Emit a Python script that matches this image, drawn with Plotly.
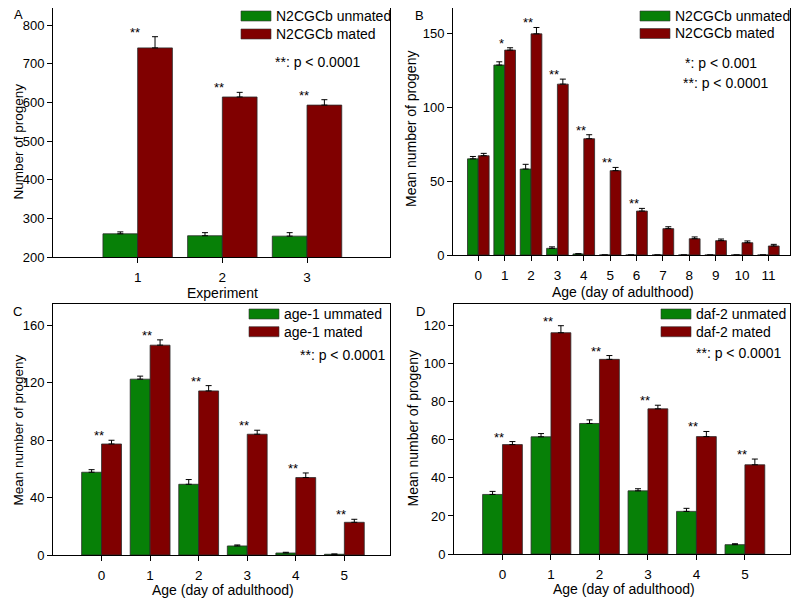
import plotly.graph_objects as go

GREEN = "#078007"
RED = "#800000"
FONT = "Liberation Sans, Arial, sans-serif"

# ---------------- data ----------------
# Panel A
A_exp = [1, 2, 3]
A_unmated = [260, 255, 254]
A_unmated_err = [5, 8, 9]
A_mated = [741, 614, 593]
A_mated_err = [29, 12, 14]
A_sig = ["**", "**", "**"]
A_yticks = [200, 300, 400, 500, 600, 700, 800]

# Panel B
B_day = [0, 1, 2, 3, 4, 5, 6, 7, 8, 9, 10, 11]
B_unmated = [65, 128.4, 58.1, 4.5, 0.7, 0, 0, 0, 0, 0, 0, 0]
B_unmated_err = [1.6, 2.2, 3.2, 1.0, 0.2, 0, 0, 0, 0, 0, 0, 0]
B_mated = [67.1, 138.5, 149.5, 115.5, 78.6, 57.0, 29.7, 17.8, 11.0, 9.7, 8.3, 6.1]
B_mated_err = [1.6, 1.6, 4.3, 3.4, 2.7, 2.2, 1.8, 1.3, 1.2, 1.1, 1.2, 1.1]
B_sig = ["", "*", "**", "**", "**", "**", "**", "", "", "", "", ""]
B_yticks = [0, 50, 100, 150]

# Panel C
C_day = [0, 1, 2, 3, 4, 5]
C_unmated = [57.7, 122.6, 49.3, 6.3, 1.4, 0.5]
C_unmated_err = [1.8, 2.1, 3.3, 0.7, 0.5, 0.2]
C_mated = [77.4, 146.3, 114.4, 84.2, 54.0, 22.8]
C_mated_err = [2.6, 3.7, 3.7, 2.8, 3.2, 2.1]
C_sig = ["**", "**", "**", "**", "**", "**"]
C_yticks = [0, 40, 80, 120, 160]

# Panel D
D_day = [0, 1, 2, 3, 4, 5]
D_unmated = [31.3, 61.6, 68.6, 33.2, 22.4, 4.9]
D_unmated_err = [1.6, 1.7, 1.9, 1.1, 1.6, 0.5]
D_mated = [57.5, 116.3, 102.3, 76.3, 61.7, 46.9]
D_mated_err = [1.6, 3.7, 2.0, 1.9, 2.7, 3.0]
D_sig = ["**", "**", "**", "**", "**", "**"]
D_yticks = [0, 20, 40, 60, 80, 100, 120]

# The page body has an 8px margin; the figure is sized so it fills the window.
OFF = 8
W, H = 800 - OFF, 603 - OFF


def fx(px):
    return min(max((px - OFF) / W, 0.0), 1.0)


def fy(py):
    return min(max(1 - (py - OFF) / H, 0.0), 1.0)


panels = [
    dict(ax="", x=A_exp, u=A_unmated, ue=A_unmated_err, m=A_mated, me=A_mated_err,
         sig=A_sig, yt=A_yticks, names=("N2CGCb unmated", "N2CGCb mated"),
         xtitle="Experiment", ytitle="Number of progeny", letter="A",
         box=(53, 390, 5, 257), xr=[0.0, 3.98], yr=[200, 852],
         leg=(274, [16, 34]), ptext=["**: p < 0.0001"], ppos=[(273, 62)],
         lpos=(18, 15), ytc=142, xtc=(222.5, 292.7)),
    dict(ax="2", x=B_day, u=B_unmated, ue=B_unmated_err, m=B_mated, me=B_mated_err,
         sig=B_sig, yt=B_yticks, names=("N2CGCb unmated", "N2CGCb mated"),
         xtitle="Age (day of adulthood)", ytitle="Mean number of progeny", letter="B",
         box=(453, 790, 5, 255), xr=[-0.96, 11.82], yr=[0, 169],
         leg=(673, [16, 33.5]), ptext=["*: p < 0.001", "**: p < 0.0001"],
         ppos=[(683, 63), (681, 83)], lpos=(419, 16), ytc=129, xtc=(623, 291.7)),
    dict(ax="3", x=C_day, u=C_unmated, ue=C_unmated_err, m=C_mated, me=C_mated_err,
         sig=C_sig, yt=C_yticks, names=("age-1 ummated", "age-1 mated"),
         xtitle="Age (day of adulthood)", ytitle="Mean number of progeny", letter="C",
         box=(53, 390, 304, 555), xr=[-1.0, 5.94], yr=[0, 175],
         leg=(282, [314, 331.7]), ptext=["**: p < 0.0001"], ppos=[(298, 355)],
         lpos=(17, 311), ytc=430, xtc=(223, 590)),
    dict(ax="4", x=D_day, u=D_unmated, ue=D_unmated_err, m=D_mated, me=D_mated_err,
         sig=D_sig, yt=D_yticks, names=("daf-2 unmated", "daf-2 mated"),
         xtitle="Age (day of adulthood)", ytitle="Mean number of progeny", letter="D",
         box=(454, 790, 304, 554), xr=[-1.0, 5.93], yr=[0, 131.4],
         leg=(694, [314, 331.7]), ptext=["**: p < 0.0001"], ppos=[(694, 353)],
         lpos=(420, 311), ytc=428.5, xtc=(624, 589)),
]

fig = go.Figure()
annotations = []
shapes = []
layout = dict(
    width=W, height=H,
    margin=dict(l=0, r=0, t=0, b=0, autoexpand=False),
    paper_bgcolor="white", plot_bgcolor="white",
    barmode="group", bargap=0.18, bargroupgap=0.0,
    font=dict(family=FONT, size=14, color="black"),
    showlegend=False,
)


def txt(x, y, text, size=14, xanchor="left", yanchor="middle", angle=0):
    return dict(x=x, y=y, xref="paper", yref="paper", text=text, showarrow=False,
                xanchor=xanchor, yanchor=yanchor, textangle=angle,
                font=dict(size=size, family=FONT, color="black"))


for p in panels:
    xa, ya = "x" + p["ax"], "y" + p["ax"]
    tx, rows = p["leg"]
    for vals, errs, col, nm, ry in ((p["u"], p["ue"], GREEN, p["names"][0], rows[0]),
                                    (p["m"], p["me"], RED, p["names"][1], rows[1])):
        fig.add_trace(go.Bar(
            x=p["x"], y=vals, xaxis=xa, yaxis=ya, name=nm,
            marker=dict(color=col, line=dict(color="#2a2a2a", width=0.8)),
            error_y=dict(type="data", array=errs, arrayminus=[0] * len(errs),
                         symmetric=False, color="black", thickness=1, width=3),
        ))
        # legend swatch + label
        shapes.append(dict(type="rect", xref="paper", yref="paper",
                           x0=fx(tx - 33), x1=fx(tx - 3), y0=fy(ry + 5), y1=fy(ry - 5),
                           fillcolor=col, line=dict(color="#333333", width=0.6),
                           layer="above"))
        annotations.append(txt(fx(tx), fy(ry), nm))
    # significance stars
    for xi, mv, me, s in zip(p["x"], p["m"], p["me"], p["sig"]):
        if s:
            annotations.append(dict(
                x=xi, y=mv + me, xref=xa, yref=ya, text=s, showarrow=False,
                xanchor="center", yanchor="bottom", yshift=-5, xshift=-3,
                font=dict(size=13, family=FONT, color="black")))
    # p-value text
    for t, (px, py) in zip(p["ptext"], p["ppos"]):
        annotations.append(txt(fx(px), fy(py), t))
    # panel letter
    annotations.append(txt(fx(p["lpos"][0]), fy(p["lpos"][1]), p["letter"],
                           xanchor="center", size=13))
    # y-axis title (rotated), kept inside the figure's left edge
    ytx = p["box"][0] - 42
    if ytx - 10 < OFF:
        annotations.append(txt(0.0, fy(p["ytc"]), p["ytitle"], xanchor="left",
                               angle=-90, size=13.5))
    else:
        annotations.append(txt(fx(ytx), fy(p["ytc"]), p["ytitle"], xanchor="center",
                               angle=-90))
    annotations.append(txt(fx(p["xtc"][0]), fy(p["xtc"][1]), p["xtitle"],
                           xanchor="center"))

    l, r, t, b = p["box"]
    y0v, y1v = p["yr"]
    tt = max(t, OFF)
    # keep the same value-per-pixel scale when the top edge is clamped
    y1v = y0v + (y1v - y0v) * (b - tt) / (b - t)
    layout["xaxis" + p["ax"]] = dict(
        domain=[fx(l), fx(r)], anchor=ya, range=p["xr"], tickvals=p["x"],
        ticktext=[str(v) for v in p["x"]], automargin=False,
        ticks="outside", ticklen=5, tickcolor="black", tickwidth=1,
        ticklabelstandoff=3,
        showline=True, linecolor="black", linewidth=1, mirror=True,
        showgrid=False, zeroline=False,
        tickfont=dict(size=13.5, family=FONT),
    )
    layout["yaxis" + p["ax"]] = dict(
        domain=[fy(b), fy(tt)], anchor=xa, range=[y0v, y1v], tickvals=p["yt"],
        automargin=False, ticklabelstandoff=0,
        ticks="outside", ticklen=5, tickcolor="black", tickwidth=1,
        showline=True, linecolor="black", linewidth=1, mirror=True,
        showgrid=False, zeroline=False,
        tickfont=dict(size=13, family=FONT),
    )

layout["annotations"] = annotations
layout["shapes"] = shapes
fig.update_layout(**layout)
fig.write_html("out.html")
